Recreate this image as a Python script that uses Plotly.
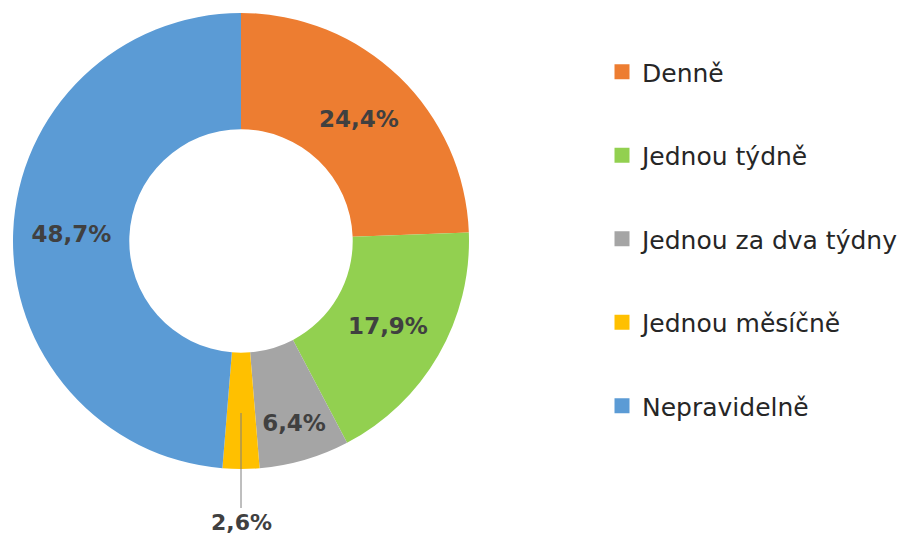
import plotly.graph_objects as go

categories = ["Denně", "Jednou týdně", "Jednou za dva týdny", "Jednou měsíčně", "Nepravidelně"]
values = [24.4, 17.9, 6.4, 2.6, 48.7]
colors = ["#ED7D31", "#92D050", "#A5A5A5", "#FFC000", "#5B9BD5"]
text_pos = ["inside", "inside", "inside", "none", "inside"]

W, H = 905, 537
OFF = 8  # page body margin
cx, cy, r = 241 - OFF, 241 - OFF, 228

fig = go.Figure()
fig.add_trace(go.Pie(
    labels=categories, values=values, sort=False, direction="clockwise", rotation=0,
    hole=0.49,
    marker=dict(colors=colors, line=dict(width=0)),
    texttemplate="%{value:.1f}%", textposition=text_pos,
    insidetextorientation="horizontal",
    textfont=dict(family="DejaVu Sans", size=23, color="#404040", weight="bold"),
    domain=dict(x=[(cx - r) / W, (cx + r) / W], y=[1 - (cy + r) / H, 1 - (cy - r) / H]),
    showlegend=False, hoverinfo="label+percent",
))

for i, (c, col) in enumerate(zip(categories, colors)):
    fig.add_trace(go.Scatter(
        x=[None], y=[None], mode="markers", name=c, legendgroup=f"g{i}",
        marker=dict(symbol="square", size=15, color=col),
        showlegend=True,
    ))

# outside label for the small slice
small = categories.index("Jednou měsíčně")
fig.add_annotation(
    x=cx / W, y=1 - (413 - OFF) / H, xref="paper", yref="paper",
    text=f"{values[small]:.1f}%".replace(".", ","),
    showarrow=True, arrowhead=0, arrowwidth=1, arrowcolor="#7F7F7F",
    ax=0, ay=109, standoff=0,
    font=dict(family="DejaVu Sans", size=22, color="#404040", weight="bold"),
)

fig.update_layout(
    width=W, height=H, margin=dict(l=0, r=0, t=0, b=0),
    paper_bgcolor="white", plot_bgcolor="white",
    separators=", ",
    xaxis=dict(visible=False), yaxis=dict(visible=False),
    legend=dict(
        x=(642 - 40 - OFF) / W, y=1 - (49 - OFF) / H, xanchor="left", yanchor="top",
        font=dict(family="DejaVu Sans", size=25, color="#262626"),
        tracegroupgap=48, itemsizing="trace", bgcolor="rgba(0,0,0,0)",
    ),
)

fig.write_html("out.html")
